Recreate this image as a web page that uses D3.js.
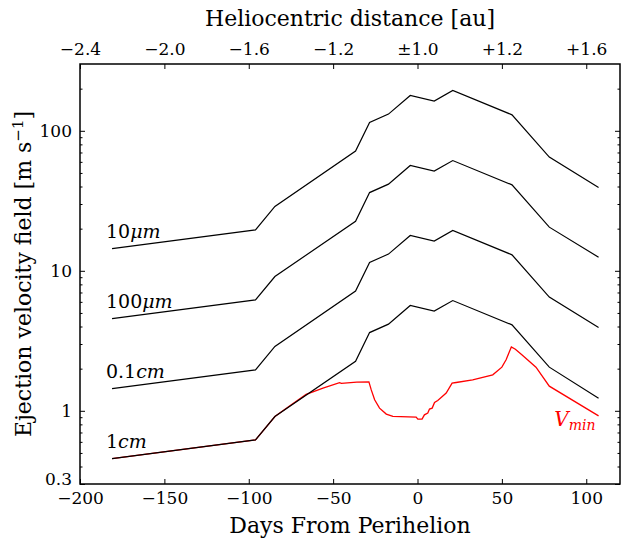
<!DOCTYPE html>
<html>
<head>
<meta charset="utf-8">
<script src="https://cdn.jsdelivr.net/npm/d3@7"></script>
<style>
body { margin: 0; background: #fff; }
</style>
</head>
<body>
<div id="chart"></div>
<script>
var width = 621;
var height = 539;

// days from perihelion of the model points
var days = [-181, -96, -84.5, -36.7, -28.4, -17.2, -4.3, 9.9, 20.9, 56, 78.1, 107.3];

// ejection velocity (m/s) for each grain size
var v10um  = [14.4, 19.6, 28.8, 71.6, 114.6, 131.6, 178.7, 163, 194, 130, 64.9, 39.4];
var v100um = [4.55, 6.2, 9.1, 22.6, 36.2, 41.6, 56.5, 51.5, 61.3, 41.1, 20.5, 12.5];
var v01cm  = [1.44, 1.96, 2.88, 7.16, 11.46, 13.16, 17.87, 16.3, 19.4, 13.0, 6.49, 3.94];
var v1cm   = [0.455, 0.62, 0.91, 2.26, 3.62, 4.16, 5.65, 5.15, 6.13, 4.11, 2.05, 1.23];

var seriesNames = ["10", "100", "0.1", "1"];
var seriesUnits = ["\u03bcm", "\u03bcm", "cm", "cm"];

// V_min curve
var vminDays = [-181, -96, -84.5, -75, -66, -56, -46.2, -45.1, -36, -28.8, -27.4, -25.4, -22.5,
                -18.5, -14.6, -0.8, 0.2, 2.7, 4.1, 6.1, 7.1, 8.7, 10.1, 12, 17, 20.5, 22.9,
                32.7, 44.6, 50, 52.5, 55.6, 58, 62, 70.2, 78.1, 107.3];
var vminVals = [0.455, 0.62, 0.91, 1.1, 1.31, 1.45, 1.59, 1.57, 1.6, 1.61, 1.41, 1.2, 1.045,
                0.947, 0.911, 0.902, 0.872, 0.872, 0.936, 0.963, 1.028, 1.045, 1.146, 1.185, 1.338, 1.577, 1.593,
                1.665, 1.807, 2.05, 2.313, 2.86, 2.75, 2.5, 2.05, 1.5, 0.92];

var xTicks = [-200, -150, -100, -50, 0, 50, 100];
var topLabels = ["\u22122.4", "\u22122.0", "\u22121.6", "\u22121.2", "\u00b11.0", "+1.2", "+1.6"];
var yTicks = [0.3, 1, 10, 100];
var yLabels = ["0.3", "1", "10", "100"];

var mLeft = 80, mRight = 620, mTop = 64, mBottom = 484;
var serif = "DejaVu Serif";

var xScale = d3.scaleLinear().domain([-200, 120]).range([mLeft, mRight]);
var yScale = d3.scaleLog().domain([0.3, 300]).range([mBottom, mTop]);

var minor = [];
[0.1, 1, 10, 100].forEach(function(dec) {
  for (var k = 2; k <= 9; k++) {
    var v = +(k * dec).toPrecision(3);
    if (v > 0.3 && v < 300) minor.push(v);
  }
});

var svg = d3.select("#chart")
            .append("svg")
            .attr("width", width)
            .attr("height", height)
            .style("font-family", serif);

var line = d3.line()
             .x(function(d) { return xScale(d[0]); })
             .y(function(d) { return yScale(d[1]); });

// red V_min first, black lines drawn over it
svg.append("path")
   .datum(d3.zip(vminDays, vminVals))
   .attr("d", line)
   .attr("fill", "none")
   .attr("stroke", "#ff0000")
   .attr("stroke-width", 1.3);

var allSeries = [v10um, v100um, v01cm, v1cm];
allSeries.forEach(function(vals, i) {
  svg.append("path")
     .datum(d3.zip(days, vals))
     .attr("d", line)
     .attr("fill", "none")
     .attr("stroke", "#000")
     .attr("stroke-width", 1.2);

  var t = svg.append("text")
     .attr("x", xScale(-184.6))
     .attr("y", yScale(vals[0]) - 11)
     .style("font-family", serif)
     .attr("font-size", 19);
  t.append("tspan").text(seriesNames[i]);
  t.append("tspan").attr("font-style", "italic").text(seriesUnits[i]);
});

// V_min label
var vl = svg.append("text")
   .attr("x", xScale(81))
   .attr("y", yScale(0.78))
   .attr("fill", "#ff0000")
   .style("font-family", serif)
   .attr("font-style", "italic")
   .attr("font-size", 20);
vl.append("tspan").text("V");
vl.append("tspan").attr("font-size", 14).attr("dy", 4).text("min");

// axes
var xAxis = d3.axisBottom(xScale)
              .tickValues(xTicks)
              .tickSize(-5)
              .tickPadding(8)
              .tickFormat(function(d) { return d < 0 ? "\u2212" + Math.abs(d) : d; });

var topAxis = d3.axisTop(xScale)
                .tickValues(xTicks)
                .tickSize(-5)
                .tickPadding(9)
                .tickFormat(function(d, i) { return topLabels[i]; });

var yAxis = d3.axisLeft(yScale)
              .tickValues(yTicks)
              .tickSize(-5)
              .tickPadding(8)
              .tickFormat(function(d, i) { return yLabels[i]; });

var yAxisR = d3.axisRight(yScale).tickValues(yTicks).tickSize(-5).tickFormat("");
var yMinorL = d3.axisLeft(yScale).tickValues(minor).tickSize(-2.5).tickFormat("");
var yMinorR = d3.axisRight(yScale).tickValues(minor).tickSize(-2.5).tickFormat("");

function style(g, size) {
  g.attr("font-family", null).attr("font-size", size);
  g.select(".domain").remove();
  g.selectAll("line").attr("stroke", "#000").attr("stroke-width", 1);
  g.selectAll("text").attr("fill", "#000").style("font-family", serif);
}

svg.append("g").attr("transform", "translate(0," + mBottom + ")").call(xAxis).call(style, 17);
svg.append("g").attr("transform", "translate(0," + mTop + ")").call(topAxis).call(style, 17);
var gy = svg.append("g").attr("transform", "translate(" + mLeft + ",0)").call(yAxis).call(style, 17);
gy.selectAll("text").filter(function(d) { return d === 0.3; }).attr("dy", "0.05em");
svg.append("g").attr("transform", "translate(" + mRight + ",0)").call(yAxisR).call(style, 17);
svg.append("g").attr("transform", "translate(" + mLeft + ",0)").call(yMinorL).call(style, 17);
svg.append("g").attr("transform", "translate(" + mRight + ",0)").call(yMinorR).call(style, 17);

// frame
svg.append("rect")
   .attr("x", mLeft).attr("y", mTop)
   .attr("width", mRight - mLeft).attr("height", mBottom - mTop)
   .attr("fill", "none").attr("stroke", "#000").attr("stroke-width", 1.5);

// titles
svg.append("text")
   .attr("x", (mLeft + mRight) / 2).attr("y", 26)
   .attr("text-anchor", "middle").attr("font-size", 22)
   .style("font-family", serif)
   .text("Heliocentric distance [au]");

svg.append("text")
   .attr("x", (mLeft + mRight) / 2).attr("y", 533)
   .attr("text-anchor", "middle").attr("font-size", 22)
   .style("font-family", serif)
   .text("Days From Perihelion");

var yl = svg.append("text")
   .attr("transform", "translate(31," + ((mTop + mBottom) / 2) + ") rotate(-90)")
   .style("font-family", serif)
   .attr("text-anchor", "middle").attr("font-size", 22);
yl.append("tspan").text("Ejection velocity field [m s");
yl.append("tspan").attr("font-size", 15).attr("dy", -8).text("\u22121");
yl.append("tspan").attr("dy", 8).text("]");
</script>
</body>
</html>
